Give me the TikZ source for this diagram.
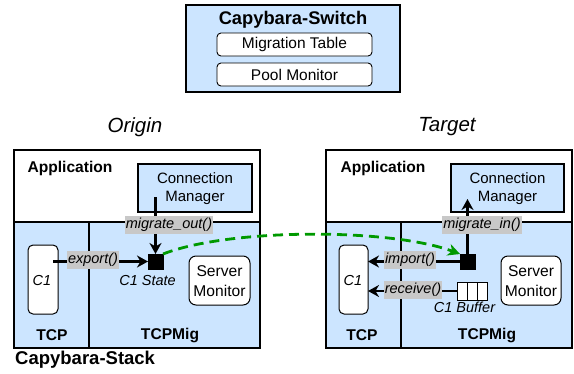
\documentclass[tikz,border=0pt]{standalone}
\usepackage{fontspec}
\setmainfont{Liberation Sans}
\usetikzlibrary{arrows.meta,calc}
\definecolor{capblue}{RGB}{204,229,255}
\definecolor{lblgray}{RGB}{200,200,200}
\definecolor{mgreen}{RGB}{0,153,0}
\begin{document}
\begin{tikzpicture}[x=1pt,y=-1pt,
  region/.style={draw, line width=1.6pt, inner sep=0pt, outer sep=0pt, anchor=north west},
  inbox/.style={draw, fill=white, rounded corners=4pt, line width=0.9pt, minimum width=155pt, minimum height=23pt, inner sep=0pt, font=\fontsize{15.5}{18}\selectfont},
  wbox/.style={draw, fill=white, line width=1pt, inner sep=0pt, outer sep=0pt},
  bigtitle/.style={font=\fontsize{18.3}{21}\selectfont\bfseries, inner sep=0pt},
  sidetitle/.style={font=\fontsize{20.5}{24}\selectfont\itshape, inner sep=0pt},
  btxt/.style={font=\fontsize{15.6}{18}\selectfont\bfseries, inner sep=0pt},
  ntxt/.style={font=\fontsize{15}{18}\selectfont, align=center},
  itxt/.style={font=\fontsize{14.5}{17}\selectfont\itshape, inner sep=0pt},
  lbl/.style={fill=lblgray, inner xsep=1pt, inner ysep=2pt, font=\fontsize{14.5}{17}\selectfont\itshape},
  arr/.style={line width=2.3pt, -{Stealth[length=11pt,width=12pt,inset=3.5pt]}},
  sq/.style={fill=black, draw=black, minimum size=15pt, inner sep=0pt, outer sep=0pt}
]
\useasboundingbox (0,0) rectangle (574,373);

% ---------- Capybara-Switch ----------
\node[region, fill=capblue, minimum width=214pt, minimum height=87pt] (sw) at (186,5) {};
\node[bigtitle] (swt) at (293,20) {Capybara-Switch};
\node[inbox] (mt) at (294.5,44.5) {Migration Table};
\node[inbox] (pm) at (294.5,74.5) {Pool Monitor};

% ---------- Origin ----------
\node[sidetitle] (orig) at (135,127) {Origin};
\node[region, fill=white, minimum width=246pt, minimum height=72pt] (oapp) at (14,150) {};
\node[region, fill=capblue, minimum width=75pt, minimum height=126pt] (otcp) at (14,222) {};
\node[region, fill=capblue, minimum width=171pt, minimum height=126pt] (omig) at (89,222) {};
\node[region, fill=capblue, minimum width=114pt, minimum height=48pt, line width=1.2pt] (ocm) at (138,164) {};
\node[ntxt] (ocmt) at (195,189) {Connection\\Manager};
\node[btxt] (oappt) at (70,168) {Application};
\node[btxt] (otcpt) at (52,335) {TCP};
\node[btxt] (omigt) at (170,335) {TCPMig};
\node[btxt, font=\fontsize{18.5}{21}\selectfont\bfseries, anchor=west] (stack) at (15,360) {Capybara-Stack};
\node[wbox, rounded corners=5pt, minimum width=30pt, minimum height=69pt] (c1o) at (43,279.5) {};
\node[itxt] (c1ot) at (42,281) {C1};
\node[sq] (sqo) at (155.5,261.5) {};
\node[itxt] (sqot) at (147.5,281) {C1 State};
\node[wbox, rounded corners=7pt, minimum width=61pt, minimum height=49pt] (smo) at (219.5,280.5) {};
\node[ntxt, font=\fontsize{15.6}{20}\selectfont] (smot) at (219.5,281) {Server\\Monitor};
\coordinate (moStart) at (155.5,197);
\draw[arr] ($(c1o.east |- sqo.west)+(-5,0)$) -- (sqo.west);
\draw[arr] (moStart) -- (sqo.north);
\node[lbl] (lexp) at (93,260) {export()};
\node[lbl] (lmo) at (169,225) {migrate\_out()};

% ---------- Target ----------
\node[sidetitle] (targ) at (447,127) {Target};
\node[region, fill=white, minimum width=246pt, minimum height=72pt] (tapp) at (326,150) {};
\node[region, fill=capblue, minimum width=75pt, minimum height=126pt] (ttcp) at (326,222) {};
\node[region, fill=capblue, minimum width=171pt, minimum height=126pt] (tmig) at (401,222) {};
\node[region, fill=capblue, minimum width=113pt, minimum height=48pt, line width=1.2pt] (tcm) at (451,164) {};
\node[ntxt] (tcmt) at (507.5,189) {Connection\\Manager};
\node[btxt] (tappt) at (383,168) {Application};
\node[btxt] (ttcpt) at (362,335) {TCP};
\node[btxt] (tmigt) at (487,335) {TCPMig};
\node[wbox, rounded corners=5pt, minimum width=29pt, minimum height=69pt] (c1t) at (353.5,279.5) {};
\node[itxt] (c1tt) at (353,281) {C1};
\node[sq] (sqt) at (467.5,261.5) {};
\node[wbox, minimum width=10pt, minimum height=18pt] (b1) at (462,291) {};
\node[wbox, minimum width=10pt, minimum height=18pt] (b2) at (472,291) {};
\node[wbox, minimum width=10pt, minimum height=18pt] (b3) at (482,291) {};
\node[itxt] (buft) at (464.5,307) {C1 Buffer};
\node[wbox, rounded corners=7pt, minimum width=60pt, minimum height=49pt] (smt) at (531,280.5) {};
\node[ntxt, font=\fontsize{15.6}{20}\selectfont] (smtt) at (531,281) {Server\\Monitor};
\coordinate (miEnd) at (467.5,199);
\draw[arr] (sqt.west) -- (c1t.east |- sqt.west);
\draw[arr] (b1.west) -- (c1t.east |- b1.west);
\draw[arr] (sqt.north) -- (miEnd);
\node[lbl] (limp) at (410,260) {import()};
\node[lbl] (lrec) at (413,290) {receive()};
\node[lbl] (lmi) at (482,225) {migrate\_in()};

% ---------- migration path ----------
\draw[mgreen, line width=2.8pt, dash pattern=on 10pt off 6pt, -{Stealth[length=12pt,width=12pt,inset=3.5pt]}]
  (sqo.north east) .. controls (230,228) and (390,228) .. (sqt.north west);
\end{tikzpicture}
\end{document}
